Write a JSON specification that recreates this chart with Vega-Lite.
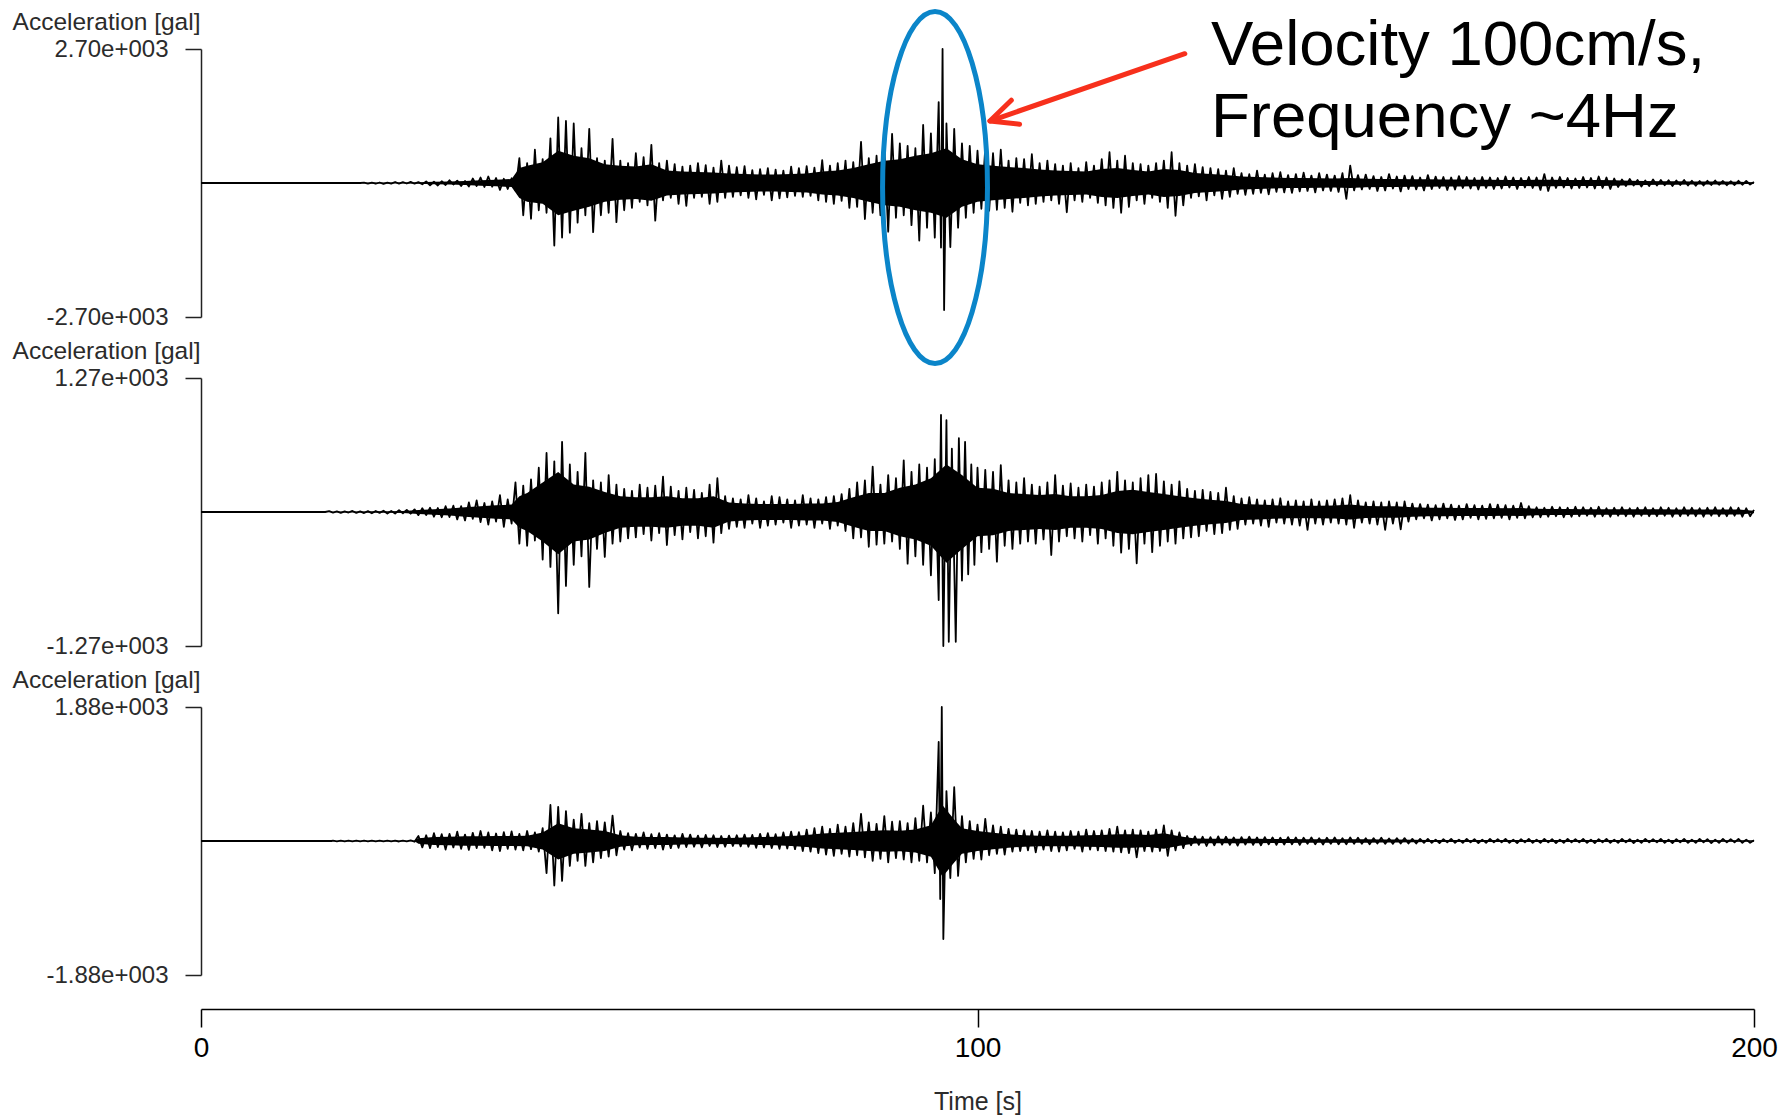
{
"$schema": "https://vega.github.io/schema/vega-lite/v6.json",
"background": "white",
"padding": {"left": 12, "top": 1, "right": 14, "bottom": 4},
"config": {
  "view": {"stroke": null},
  "font": "Liberation Sans",
  "axis": {"grid": false, "domainColor": "#222", "tickColor": "#222", "domainWidth": 1.5, "tickWidth": 1.5, "labelFont": "Liberation Sans", "titleFont": "Liberation Sans", "labelColor": "#2b2b2b", "titleColor": "#2b2b2b", "titleFontWeight": "normal", "labelOverlap": false}
},
"datasets": {
"ns": [{"t":0,"a":0},{"t":20.5,"a":0},{"t":21,"a":8},{"t":21.5,"a":-12},{"t":22,"a":6},{"t":22.5,"a":-15},{"t":23,"a":10},{"t":23.5,"a":-18},{"t":24,"a":9},{"t":24.5,"a":-14},{"t":25,"a":20},{"t":25.5,"a":-12},{"t":26,"a":16},{"t":26.5,"a":-10},{"t":27,"a":22},{"t":27.5,"a":-14},{"t":28,"a":18},{"t":28.5,"a":-25},{"t":29,"a":30},{"t":29.5,"a":-45},{"t":30,"a":25},{"t":30.5,"a":-50},{"t":31,"a":35},{"t":31.5,"a":-40},{"t":32,"a":55},{"t":32.5,"a":-30},{"t":33,"a":48},{"t":33.5,"a":-60},{"t":34,"a":40},{"t":34.5,"a":-70},{"t":35,"a":90},{"t":35.5,"a":-60},{"t":36,"a":110},{"t":36.5,"a":-80},{"t":37,"a":130},{"t":37.5,"a":-75},{"t":38,"a":100},{"t":38.5,"a":-140},{"t":39,"a":85},{"t":39.5,"a":-120},{"t":40,"a":95},{"t":40.5,"a":-150},
{"t":41,"a":500},{"t":41.5,"a":-650},{"t":42,"a":400},{"t":42.5,"a":-720},{"t":43,"a":670},{"t":43.5,"a":-550},{"t":44,"a":480},{"t":44.5,"a":-600},{"t":45,"a":900},{"t":45.5,"a":-1260},{"t":46,"a":1320},{"t":46.5,"a":-1100},{"t":47,"a":1250},{"t":47.5,"a":-1000},{"t":48,"a":1200},{"t":48.5,"a":-800},{"t":49,"a":700},{"t":49.5,"a":-650},{"t":50,"a":1090},{"t":50.5,"a":-990},{"t":51,"a":500},{"t":51.5,"a":-650},{"t":52,"a":450},{"t":52.5,"a":-600},{"t":53,"a":890},{"t":53.5,"a":-790},{"t":54,"a":450},{"t":54.5,"a":-550},{"t":55,"a":400},{"t":55.5,"a":-500},{"t":56,"a":600},{"t":56.5,"a":-380},{"t":57,"a":520},{"t":57.5,"a":-450},{"t":58,"a":770},{"t":58.5,"a":-760},{"t":59,"a":400},{"t":59.5,"a":-350},{"t":60,"a":450},{"t":60.5,"a":-300},{"t":61,"a":380},{"t":61.5,"a":-420},{"t":62,"a":330},{"t":62.5,"a":-460},{"t":63,"a":350},{"t":63.5,"a":-300},{"t":64,"a":400},{"t":64.5,"a":-280},{"t":65,"a":360},{"t":65.5,"a":-420},{"t":66,"a":310},{"t":66.5,"a":-380},{"t":67,"a":450},{"t":67.5,"a":-300},{"t":68,"a":350},{"t":68.5,"a":-280},{"t":69,"a":320},{"t":69.5,"a":-250},{"t":70,"a":340},{"t":70.5,"a":-300},{"t":71,"a":260},{"t":71.5,"a":-330},{"t":72,"a":280},{"t":72.5,"a":-240},{"t":73,"a":300},{"t":73.5,"a":-350},{"t":74,"a":270},{"t":74.5,"a":-310},{"t":75,"a":250},{"t":75.5,"a":-290},{"t":76,"a":330},{"t":76.5,"a":-260},{"t":77,"a":300},{"t":77.5,"a":-280},{"t":78,"a":340},{"t":78.5,"a":-260},{"t":79,"a":310},{"t":79.5,"a":-350},{"t":80,"a":460},{"t":80.5,"a":-380},{"t":81,"a":350},{"t":81.5,"a":-420},{"t":82,"a":400},{"t":82.5,"a":-360},{"t":83,"a":450},{"t":83.5,"a":-500},{"t":84,"a":420},{"t":84.5,"a":-480},{"t":85,"a":830},{"t":85.5,"a":-725},{"t":86,"a":500},{"t":86.5,"a":-600},{"t":87,"a":550},{"t":87.5,"a":-650},{"t":88,"a":700},{"t":88.5,"a":-980},{"t":89,"a":990},{"t":89.5,"a":-700},{"t":90,"a":800},{"t":90.5,"a":-650},{"t":91,"a":750},{"t":91.5,"a":-850},{"t":92,"a":700},{"t":92.5,"a":-1160},{"t":93,"a":1170},{"t":93.5,"a":-900},{"t":94,"a":1000},{"t":94.5,"a":-1100},{"t":95,"a":1630},{"t":95.3,"a":-1300},{"t":95.5,"a":2700},{"t":95.7,"a":-2560},{"t":96,"a":1200},{"t":96.5,"a":-1290},{"t":97,"a":1090},{"t":97.5,"a":-900},{"t":98,"a":800},{"t":98.5,"a":-700},{"t":99,"a":750},{"t":99.5,"a":-600},{"t":100,"a":650},{"t":100.5,"a":-520},{"t":101,"a":700},{"t":101.5,"a":-560},{"t":102,"a":600},{"t":102.5,"a":-540},{"t":103,"a":670},{"t":103.5,"a":-500},{"t":104,"a":450},{"t":104.5,"a":-580},{"t":105,"a":500},{"t":105.5,"a":-400},{"t":106,"a":480},{"t":106.5,"a":-450},{"t":107,"a":580},{"t":107.5,"a":-420},{"t":108,"a":400},{"t":108.5,"a":-380},{"t":109,"a":450},{"t":109.5,"a":-350},{"t":110,"a":380},{"t":110.5,"a":-420},{"t":111,"a":350},{"t":111.5,"a":-590},{"t":112,"a":400},{"t":112.5,"a":-350},{"t":113,"a":300},{"t":113.5,"a":-380},{"t":114,"a":420},{"t":114.5,"a":-300},{"t":115,"a":350},{"t":115.5,"a":-400},{"t":116,"a":480},{"t":116.5,"a":-450},{"t":117,"a":620},{"t":117.5,"a":-500},{"t":118,"a":450},{"t":118.5,"a":-600},{"t":119,"a":550},{"t":119.5,"a":-480},{"t":120,"a":400},{"t":120.5,"a":-350},{"t":121,"a":380},{"t":121.5,"a":-420},{"t":122,"a":350},{"t":122.5,"a":-300},{"t":123,"a":400},{"t":123.5,"a":-380},{"t":124,"a":450},{"t":124.5,"a":-500},{"t":125,"a":620},{"t":125.5,"a":-660},{"t":126,"a":400},{"t":126.5,"a":-450},{"t":127,"a":350},{"t":127.5,"a":-300},{"t":128,"a":380},{"t":128.5,"a":-270},{"t":129,"a":320},{"t":129.5,"a":-350},{"t":130,"a":300},{"t":130.5,"a":-250},{"t":131,"a":280},{"t":131.5,"a":-320},{"t":132,"a":250},{"t":132.5,"a":-280},{"t":133,"a":300},{"t":133.5,"a":-220},{"t":134,"a":200},{"t":134.5,"a":-240},{"t":135,"a":180},{"t":135.5,"a":-220},{"t":136,"a":250},{"t":136.5,"a":-200},{"t":137,"a":170},{"t":137.5,"a":-230},{"t":138,"a":200},{"t":138.5,"a":-180},{"t":139,"a":220},{"t":139.5,"a":-190},{"t":140,"a":160},{"t":140.5,"a":-200},{"t":141,"a":180},{"t":141.5,"a":-170},{"t":142,"a":210},{"t":142.5,"a":-160},{"t":143,"a":150},{"t":143.5,"a":-190},{"t":144,"a":200},{"t":144.5,"a":-150},{"t":145,"a":170},{"t":145.5,"a":-160},{"t":146,"a":150},{"t":146.5,"a":-180},{"t":147,"a":200},{"t":147.5,"a":-320},{"t":148,"a":350},{"t":148.5,"a":-150},{"t":149,"a":160},{"t":149.5,"a":-130},{"t":150,"a":170},{"t":150.5,"a":-120},{"t":151,"a":140},{"t":151.5,"a":-160},{"t":152,"a":120},{"t":152.5,"a":-150},{"t":153,"a":180},{"t":153.5,"a":-110},{"t":154,"a":130},{"t":154.5,"a":-170},{"t":155,"a":150},{"t":155.5,"a":-120},{"t":156,"a":140},{"t":156.5,"a":-130},{"t":157,"a":110},{"t":157.5,"a":-150},{"t":158,"a":160},{"t":158.5,"a":-120},{"t":159,"a":130},{"t":159.5,"a":-100},{"t":160,"a":120},{"t":160.5,"a":-140},{"t":161,"a":110},{"t":161.5,"a":-130},{"t":162,"a":140},{"t":162.5,"a":-100},{"t":163,"a":120},{"t":163.5,"a":-110},{"t":164,"a":100},{"t":164.5,"a":-130},{"t":165,"a":120},{"t":165.5,"a":-100},{"t":166,"a":110},{"t":166.5,"a":-120},{"t":167,"a":100},{"t":167.5,"a":-110},{"t":168,"a":130},{"t":168.5,"a":-90},{"t":169,"a":110},{"t":169.5,"a":-120},{"t":170,"a":100},{"t":170.5,"a":-90},{"t":171,"a":120},{"t":171.5,"a":-100},{"t":172,"a":110},{"t":172.5,"a":-140},{"t":173,"a":180},{"t":173.5,"a":-160},{"t":174,"a":110},{"t":174.5,"a":-100},{"t":175,"a":120},{"t":175.5,"a":-90},{"t":176,"a":100},{"t":176.5,"a":-110},{"t":177,"a":90},{"t":177.5,"a":-100},{"t":178,"a":120},{"t":178.5,"a":-90},{"t":179,"a":100},{"t":179.5,"a":-110},{"t":180,"a":130},{"t":180.5,"a":-100},{"t":181,"a":110},{"t":181.5,"a":-120},{"t":182,"a":90},{"t":182.5,"a":-80},{"t":183,"a":70},{"t":183.5,"a":-60},{"t":184,"a":80},{"t":184.5,"a":-50},{"t":185,"a":60},{"t":185.5,"a":-70},{"t":186,"a":50},{"t":186.5,"a":-60},{"t":187,"a":70},{"t":187.5,"a":-50},{"t":188,"a":60},{"t":188.5,"a":-45},{"t":189,"a":55},{"t":189.5,"a":-60},{"t":190,"a":50},{"t":190.5,"a":-40},{"t":191,"a":60},{"t":191.5,"a":-50},{"t":192,"a":45},{"t":192.5,"a":-55},{"t":193,"a":40},{"t":193.5,"a":-50},{"t":194,"a":45},{"t":194.5,"a":-40},{"t":195,"a":50},{"t":195.5,"a":-35},{"t":196,"a":40},{"t":196.5,"a":-45},{"t":197,"a":35},{"t":197.5,"a":-40},{"t":198,"a":45},{"t":198.5,"a":-35},{"t":199,"a":40},{"t":199.5,"a":-30},{"t":200,"a":20}],
"nsCore": [{"t":20,"hi":0,"lo":0},{"t":22,"hi":8,"lo":-8},{"t":24,"hi":10,"lo":-10},{"t":26,"hi":12,"lo":-12},{"t":28,"hi":15,"lo":-15},{"t":30,"hi":25,"lo":-25},{"t":32,"hi":30,"lo":-30},{"t":34,"hi":40,"lo":-40},{"t":36,"hi":55,"lo":-55},{"t":38,"hi":65,"lo":-65},{"t":40,"hi":80,"lo":-80},{"t":41,"hi":300,"lo":-300},{"t":42,"hi":350,"lo":-380},{"t":44,"hi":420,"lo":-420},{"t":46,"hi":650,"lo":-650},{"t":48,"hi":550,"lo":-560},{"t":50,"hi":500,"lo":-480},{"t":52,"hi":380,"lo":-380},{"t":54,"hi":350,"lo":-340},{"t":56,"hi":330,"lo":-320},{"t":58,"hi":380,"lo":-360},{"t":60,"hi":250,"lo":-250},{"t":62,"hi":230,"lo":-230},{"t":64,"hi":220,"lo":-220},{"t":66,"hi":210,"lo":-210},{"t":68,"hi":190,"lo":-190},{"t":70,"hi":180,"lo":-180},{"t":72,"hi":170,"lo":-170},{"t":74,"hi":170,"lo":-170},{"t":76,"hi":180,"lo":-180},{"t":78,"hi":190,"lo":-190},{"t":80,"hi":230,"lo":-230},{"t":82,"hi":250,"lo":-250},{"t":84,"hi":300,"lo":-300},{"t":86,"hi":380,"lo":-380},{"t":88,"hi":450,"lo":-450},{"t":90,"hi":480,"lo":-480},{"t":92,"hi":550,"lo":-550},{"t":94,"hi":600,"lo":-600},{"t":96,"hi":700,"lo":-700},{"t":98,"hi":480,"lo":-480},{"t":100,"hi":380,"lo":-380},{"t":102,"hi":350,"lo":-350},{"t":104,"hi":320,"lo":-320},{"t":106,"hi":300,"lo":-300},{"t":108,"hi":270,"lo":-270},{"t":110,"hi":250,"lo":-250},{"t":112,"hi":240,"lo":-240},{"t":114,"hi":230,"lo":-230},{"t":116,"hi":280,"lo":-280},{"t":118,"hi":300,"lo":-300},{"t":120,"hi":260,"lo":-260},{"t":122,"hi":230,"lo":-230},{"t":124,"hi":280,"lo":-280},{"t":126,"hi":260,"lo":-260},{"t":128,"hi":200,"lo":-200},{"t":130,"hi":180,"lo":-180},{"t":132,"hi":160,"lo":-160},{"t":134,"hi":130,"lo":-130},{"t":136,"hi":120,"lo":-120},{"t":138,"hi":110,"lo":-110},{"t":140,"hi":100,"lo":-100},{"t":142,"hi":100,"lo":-100},{"t":144,"hi":95,"lo":-95},{"t":146,"hi":90,"lo":-90},{"t":148,"hi":100,"lo":-100},{"t":150,"hi":85,"lo":-85},{"t":152,"hi":80,"lo":-80},{"t":154,"hi":80,"lo":-80},{"t":156,"hi":75,"lo":-75},{"t":158,"hi":75,"lo":-75},{"t":160,"hi":70,"lo":-70},{"t":162,"hi":70,"lo":-70},{"t":164,"hi":65,"lo":-65},{"t":166,"hi":65,"lo":-65},{"t":168,"hi":60,"lo":-60},{"t":170,"hi":60,"lo":-60},{"t":172,"hi":65,"lo":-65},{"t":174,"hi":65,"lo":-65},{"t":176,"hi":60,"lo":-60},{"t":178,"hi":60,"lo":-60},{"t":180,"hi":60,"lo":-60},{"t":182,"hi":55,"lo":-55},{"t":184,"hi":45,"lo":-45},{"t":186,"hi":40,"lo":-40},{"t":188,"hi":35,"lo":-35},{"t":190,"hi":35,"lo":-35},{"t":192,"hi":30,"lo":-30},{"t":194,"hi":30,"lo":-30},{"t":196,"hi":28,"lo":-28},{"t":198,"hi":25,"lo":-25},{"t":200,"hi":15,"lo":-15}],
"ew": [{"t":0,"a":0},{"t":16,"a":0},{"t":16.5,"a":8},{"t":17,"a":-6},{"t":17.5,"a":5},{"t":18,"a":-8},{"t":18.5,"a":6},{"t":19,"a":-5},{"t":19.5,"a":10},{"t":20,"a":-8},{"t":20.5,"a":6},{"t":21,"a":-10},{"t":21.5,"a":8},{"t":22,"a":-12},{"t":22.5,"a":10},{"t":23,"a":-8},{"t":23.5,"a":12},{"t":24,"a":-15},{"t":24.5,"a":10},{"t":25,"a":-14},{"t":25.5,"a":18},{"t":26,"a":-12},{"t":26.5,"a":20},{"t":27,"a":-16},{"t":27.5,"a":25},{"t":28,"a":-30},{"t":28.5,"a":35},{"t":29,"a":-28},{"t":29.5,"a":40},{"t":30,"a":-45},{"t":30.5,"a":38},{"t":31,"a":-50},{"t":31.5,"a":55},{"t":32,"a":-48},{"t":32.5,"a":60},{"t":33,"a":-70},{"t":33.5,"a":55},{"t":34,"a":-80},{"t":34.5,"a":90},{"t":35,"a":-65},{"t":35.5,"a":110},{"t":36,"a":-95},{"t":36.5,"a":85},{"t":37,"a":-120},{"t":37.5,"a":100},{"t":38,"a":-90},{"t":38.5,"a":160},{"t":39,"a":-140},{"t":39.5,"a":120},{"t":40,"a":-110},{"t":40.5,"a":280},{"t":41,"a":-300},{"t":41.5,"a":250},{"t":42,"a":-320},{"t":42.5,"a":310},{"t":43,"a":-270},{"t":43.5,"a":420},{"t":44,"a":-450},{"t":44.5,"a":560},{"t":45,"a":-520},{"t":45.5,"a":480},{"t":46,"a":-960},{"t":46.5,"a":665},{"t":47,"a":-700},{"t":47.5,"a":450},{"t":48,"a":-500},{"t":48.5,"a":380},{"t":49,"a":-420},{"t":49.5,"a":560},{"t":50,"a":-710},{"t":50.5,"a":300},{"t":51,"a":-350},{"t":51.5,"a":280},{"t":52,"a":-425},{"t":52.5,"a":350},{"t":53,"a":-300},{"t":53.5,"a":260},{"t":54,"a":-280},{"t":54.5,"a":220},{"t":55,"a":-250},{"t":55.5,"a":200},{"t":56,"a":-240},{"t":56.5,"a":260},{"t":57,"a":-210},{"t":57.5,"a":230},{"t":58,"a":-270},{"t":58.5,"a":250},{"t":59,"a":-200},{"t":59.5,"a":335},{"t":60,"a":-313},{"t":60.5,"a":240},{"t":61,"a":-220},{"t":61.5,"a":200},{"t":62,"a":-260},{"t":62.5,"a":230},{"t":63,"a":-190},{"t":63.5,"a":210},{"t":64,"a":-250},{"t":64.5,"a":180},{"t":65,"a":-230},{"t":65.5,"a":260},{"t":66,"a":-290},{"t":66.5,"a":320},{"t":67,"a":-200},{"t":67.5,"a":150},{"t":68,"a":-160},{"t":68.5,"a":130},{"t":69,"a":-140},{"t":69.5,"a":120},{"t":70,"a":-150},{"t":70.5,"a":160},{"t":71,"a":-110},{"t":71.5,"a":130},{"t":72,"a":-150},{"t":72.5,"a":100},{"t":73,"a":-130},{"t":73.5,"a":150},{"t":74,"a":-120},{"t":74.5,"a":140},{"t":75,"a":-100},{"t":75.5,"a":120},{"t":76,"a":-150},{"t":76.5,"a":110},{"t":77,"a":-130},{"t":77.5,"a":160},{"t":78,"a":-120},{"t":78.5,"a":130},{"t":79,"a":-150},{"t":79.5,"a":120},{"t":80,"a":-110},{"t":80.5,"a":140},{"t":81,"a":-160},{"t":81.5,"a":150},{"t":82,"a":-130},{"t":82.5,"a":170},{"t":83,"a":-180},{"t":83.5,"a":220},{"t":84,"a":-250},{"t":84.5,"a":280},{"t":85,"a":-240},{"t":85.5,"a":300},{"t":86,"a":-330},{"t":86.5,"a":430},{"t":87,"a":-310},{"t":87.5,"a":260},{"t":88,"a":-300},{"t":88.5,"a":350},{"t":89,"a":-280},{"t":89.5,"a":320},{"t":90,"a":-350},{"t":90.5,"a":490},{"t":91,"a":-490},{"t":91.5,"a":380},{"t":92,"a":-420},{"t":92.5,"a":450},{"t":93,"a":-500},{"t":93.5,"a":420},{"t":94,"a":-600},{"t":94.5,"a":500},{"t":95,"a":-834},{"t":95.3,"a":920},{"t":95.6,"a":-1270},{"t":96,"a":870},{"t":96.3,"a":-1230},{"t":96.7,"a":600},{"t":97.2,"a":-1230},{"t":97.6,"a":700},{"t":98,"a":-650},{"t":98.4,"a":665},{"t":98.8,"a":-590},{"t":99.2,"a":450},{"t":99.6,"a":-500},{"t":100,"a":420},{"t":100.5,"a":-380},{"t":101,"a":400},{"t":101.5,"a":-350},{"t":102,"a":380},{"t":102.5,"a":-470},{"t":103,"a":445},{"t":103.5,"a":-320},{"t":104,"a":300},{"t":104.5,"a":-350},{"t":105,"a":280},{"t":105.5,"a":-300},{"t":106,"a":320},{"t":106.5,"a":-280},{"t":107,"a":260},{"t":107.5,"a":-300},{"t":108,"a":240},{"t":108.5,"a":-260},{"t":109,"a":280},{"t":109.5,"a":-408},{"t":110,"a":350},{"t":110.5,"a":-280},{"t":111,"a":250},{"t":111.5,"a":-230},{"t":112,"a":270},{"t":112.5,"a":-250},{"t":113,"a":230},{"t":113.5,"a":-280},{"t":114,"a":260},{"t":114.5,"a":-220},{"t":115,"a":240},{"t":115.5,"a":-300},{"t":116,"a":280},{"t":116.5,"a":-250},{"t":117,"a":300},{"t":117.5,"a":-320},{"t":118,"a":380},{"t":118.5,"a":-385},{"t":119,"a":300},{"t":119.5,"a":-350},{"t":120,"a":280},{"t":120.5,"a":-486},{"t":121,"a":320},{"t":121.5,"a":-300},{"t":122,"a":350},{"t":122.5,"a":-380},{"t":123,"a":360},{"t":123.5,"a":-320},{"t":124,"a":290},{"t":124.5,"a":-280},{"t":125,"a":260},{"t":125.5,"a":-300},{"t":126,"a":290},{"t":126.5,"a":-250},{"t":127,"a":220},{"t":127.5,"a":-240},{"t":128,"a":200},{"t":128.5,"a":-230},{"t":129,"a":210},{"t":129.5,"a":-180},{"t":130,"a":190},{"t":130.5,"a":-210},{"t":131,"a":180},{"t":131.5,"a":-200},{"t":132,"a":230},{"t":132.5,"a":-170},{"t":133,"a":150},{"t":133.5,"a":-160},{"t":134,"a":130},{"t":134.5,"a":-120},{"t":135,"a":140},{"t":135.5,"a":-110},{"t":136,"a":120},{"t":136.5,"a":-130},{"t":137,"a":110},{"t":137.5,"a":-140},{"t":138,"a":120},{"t":138.5,"a":-100},{"t":139,"a":130},{"t":139.5,"a":-110},{"t":140,"a":100},{"t":140.5,"a":-120},{"t":141,"a":110},{"t":141.5,"a":-130},{"t":142,"a":100},{"t":142.5,"a":-170},{"t":143,"a":120},{"t":143.5,"a":-110},{"t":144,"a":100},{"t":144.5,"a":-120},{"t":145,"a":110},{"t":145.5,"a":-100},{"t":146,"a":120},{"t":146.5,"a":-110},{"t":147,"a":130},{"t":147.5,"a":-120},{"t":148,"a":160},{"t":148.5,"a":-150},{"t":149,"a":110},{"t":149.5,"a":-100},{"t":150,"a":90},{"t":150.5,"a":-110},{"t":151,"a":100},{"t":151.5,"a":-120},{"t":152,"a":90},{"t":152.5,"a":-170},{"t":153,"a":100},{"t":153.5,"a":-110},{"t":154,"a":90},{"t":154.5,"a":-165},{"t":155,"a":100},{"t":155.5,"a":-90},{"t":156,"a":80},{"t":156.5,"a":-70},{"t":157,"a":75},{"t":157.5,"a":-60},{"t":158,"a":70},{"t":158.5,"a":-80},{"t":159,"a":65},{"t":159.5,"a":-70},{"t":160,"a":80},{"t":160.5,"a":-60},{"t":161,"a":70},{"t":161.5,"a":-75},{"t":162,"a":60},{"t":162.5,"a":-70},{"t":163,"a":75},{"t":163.5,"a":-55},{"t":164,"a":65},{"t":164.5,"a":-70},{"t":165,"a":60},{"t":165.5,"a":-65},{"t":166,"a":75},{"t":166.5,"a":-60},{"t":167,"a":70},{"t":167.5,"a":-55},{"t":168,"a":65},{"t":168.5,"a":-70},{"t":169,"a":60},{"t":169.5,"a":-55},{"t":170,"a":85},{"t":170.5,"a":-60},{"t":171,"a":55},{"t":171.5,"a":-50},{"t":172,"a":45},{"t":172.5,"a":-50},{"t":173,"a":40},{"t":173.5,"a":-45},{"t":174,"a":50},{"t":174.5,"a":-40},{"t":175,"a":45},{"t":175.5,"a":-50},{"t":176,"a":40},{"t":176.5,"a":-45},{"t":177,"a":50},{"t":177.5,"a":-40},{"t":178,"a":45},{"t":178.5,"a":-35},{"t":179,"a":40},{"t":179.5,"a":-45},{"t":180,"a":50},{"t":180.5,"a":-40},{"t":181,"a":35},{"t":181.5,"a":-45},{"t":182,"a":40},{"t":182.5,"a":-35},{"t":183,"a":45},{"t":183.5,"a":-40},{"t":184,"a":35},{"t":184.5,"a":-45},{"t":185,"a":40},{"t":185.5,"a":-35},{"t":186,"a":45},{"t":186.5,"a":-40},{"t":187,"a":35},{"t":187.5,"a":-40},{"t":188,"a":45},{"t":188.5,"a":-35},{"t":189,"a":40},{"t":189.5,"a":-45},{"t":190,"a":35},{"t":190.5,"a":-40},{"t":191,"a":45},{"t":191.5,"a":-35},{"t":192,"a":40},{"t":192.5,"a":-40},{"t":193,"a":35},{"t":193.5,"a":-45},{"t":194,"a":40},{"t":194.5,"a":-35},{"t":195,"a":45},{"t":195.5,"a":-40},{"t":196,"a":35},{"t":196.5,"a":-40},{"t":197,"a":45},{"t":197.5,"a":-35},{"t":198,"a":40},{"t":198.5,"a":-45},{"t":199,"a":35},{"t":199.5,"a":-40},{"t":200,"a":20}],
"ewCore": [{"t":16,"hi":0,"lo":0},{"t":18,"hi":4,"lo":-4},{"t":20,"hi":5,"lo":-5},{"t":22,"hi":7,"lo":-7},{"t":24,"hi":8,"lo":-8},{"t":26,"hi":10,"lo":-10},{"t":28,"hi":18,"lo":-18},{"t":30,"hi":25,"lo":-25},{"t":32,"hi":32,"lo":-32},{"t":34,"hi":45,"lo":-45},{"t":36,"hi":55,"lo":-55},{"t":38,"hi":65,"lo":-65},{"t":40,"hi":70,"lo":-70},{"t":41,"hi":150,"lo":-150},{"t":42,"hi":180,"lo":-180},{"t":44,"hi":280,"lo":-280},{"t":46,"hi":380,"lo":-400},{"t":48,"hi":260,"lo":-280},{"t":50,"hi":240,"lo":-260},{"t":52,"hi":190,"lo":-200},{"t":54,"hi":150,"lo":-150},{"t":56,"hi":140,"lo":-140},{"t":58,"hi":140,"lo":-140},{"t":60,"hi":150,"lo":-150},{"t":62,"hi":130,"lo":-130},{"t":64,"hi":130,"lo":-130},{"t":66,"hi":150,"lo":-150},{"t":68,"hi":90,"lo":-90},{"t":70,"hi":80,"lo":-80},{"t":72,"hi":75,"lo":-75},{"t":74,"hi":75,"lo":-75},{"t":76,"hi":75,"lo":-75},{"t":78,"hi":80,"lo":-80},{"t":80,"hi":80,"lo":-80},{"t":82,"hi":95,"lo":-95},{"t":84,"hi":140,"lo":-140},{"t":86,"hi":180,"lo":-180},{"t":88,"hi":180,"lo":-180},{"t":90,"hi":230,"lo":-230},{"t":92,"hi":260,"lo":-260},{"t":94,"hi":320,"lo":-320},{"t":96,"hi":450,"lo":-480},{"t":98,"hi":350,"lo":-350},{"t":100,"hi":230,"lo":-230},{"t":102,"hi":220,"lo":-220},{"t":104,"hi":180,"lo":-180},{"t":106,"hi":170,"lo":-170},{"t":108,"hi":160,"lo":-160},{"t":110,"hi":170,"lo":-170},{"t":112,"hi":150,"lo":-150},{"t":114,"hi":150,"lo":-150},{"t":116,"hi":160,"lo":-160},{"t":118,"hi":200,"lo":-200},{"t":120,"hi":210,"lo":-210},{"t":122,"hi":190,"lo":-190},{"t":124,"hi":170,"lo":-170},{"t":126,"hi":150,"lo":-150},{"t":128,"hi":130,"lo":-130},{"t":130,"hi":115,"lo":-115},{"t":132,"hi":105,"lo":-105},{"t":134,"hi":75,"lo":-75},{"t":136,"hi":70,"lo":-70},{"t":138,"hi":65,"lo":-65},{"t":140,"hi":60,"lo":-60},{"t":142,"hi":60,"lo":-60},{"t":144,"hi":60,"lo":-60},{"t":146,"hi":62,"lo":-62},{"t":148,"hi":70,"lo":-70},{"t":150,"hi":58,"lo":-58},{"t":152,"hi":55,"lo":-55},{"t":154,"hi":55,"lo":-55},{"t":156,"hi":45,"lo":-45},{"t":158,"hi":40,"lo":-40},{"t":160,"hi":40,"lo":-40},{"t":162,"hi":38,"lo":-38},{"t":164,"hi":38,"lo":-38},{"t":166,"hi":38,"lo":-38},{"t":168,"hi":36,"lo":-36},{"t":170,"hi":38,"lo":-38},{"t":172,"hi":30,"lo":-30},{"t":174,"hi":28,"lo":-28},{"t":176,"hi":28,"lo":-28},{"t":178,"hi":27,"lo":-27},{"t":180,"hi":27,"lo":-27},{"t":182,"hi":26,"lo":-26},{"t":184,"hi":25,"lo":-25},{"t":186,"hi":25,"lo":-25},{"t":188,"hi":25,"lo":-25},{"t":190,"hi":24,"lo":-24},{"t":192,"hi":24,"lo":-24},{"t":194,"hi":24,"lo":-24},{"t":196,"hi":23,"lo":-23},{"t":198,"hi":23,"lo":-23},{"t":200,"hi":12,"lo":-12}],
"ud": [{"t":0,"a":0},{"t":16.8,"a":0},{"t":17,"a":4},{"t":17.5,"a":-5},{"t":18,"a":4},{"t":18.5,"a":-6},{"t":19,"a":5},{"t":19.5,"a":-4},{"t":20,"a":6},{"t":20.5,"a":-5},{"t":21,"a":4},{"t":21.5,"a":-6},{"t":22,"a":5},{"t":22.5,"a":-4},{"t":23,"a":6},{"t":23.5,"a":-5},{"t":24,"a":4},{"t":24.5,"a":-6},{"t":25,"a":5},{"t":25.5,"a":-7},{"t":26,"a":6},{"t":26.5,"a":-5},{"t":27,"a":8},{"t":27.5,"a":-10},{"t":28,"a":70},{"t":28.5,"a":-90},{"t":29,"a":80},{"t":29.5,"a":-100},{"t":30,"a":110},{"t":30.5,"a":-85},{"t":31,"a":95},{"t":31.5,"a":-120},{"t":32,"a":100},{"t":32.5,"a":-90},{"t":33,"a":130},{"t":33.5,"a":-110},{"t":34,"a":90},{"t":34.5,"a":-125},{"t":35,"a":115},{"t":35.5,"a":-100},{"t":36,"a":140},{"t":36.5,"a":-95},{"t":37,"a":120},{"t":37.5,"a":-130},{"t":38,"a":105},{"t":38.5,"a":-140},{"t":39,"a":125},{"t":39.5,"a":-110},{"t":40,"a":135},{"t":40.5,"a":-120},{"t":41,"a":100},{"t":41.5,"a":-130},{"t":42,"a":140},{"t":42.5,"a":-115},{"t":43,"a":120},{"t":43.5,"a":-150},{"t":44,"a":180},{"t":44.5,"a":-450},{"t":45,"a":505},{"t":45.5,"a":-625},{"t":46,"a":480},{"t":46.5,"a":-560},{"t":47,"a":420},{"t":47.5,"a":-350},{"t":48,"a":300},{"t":48.5,"a":-280},{"t":49,"a":380},{"t":49.5,"a":-350},{"t":50,"a":250},{"t":50.5,"a":-300},{"t":51,"a":280},{"t":51.5,"a":-240},{"t":52,"a":260},{"t":52.5,"a":-220},{"t":53,"a":355},{"t":53.5,"a":-200},{"t":54,"a":140},{"t":54.5,"a":-120},{"t":55,"a":110},{"t":55.5,"a":-130},{"t":56,"a":100},{"t":56.5,"a":-90},{"t":57,"a":120},{"t":57.5,"a":-110},{"t":58,"a":95},{"t":58.5,"a":-100},{"t":59,"a":110},{"t":59.5,"a":-120},{"t":60,"a":90},{"t":60.5,"a":-100},{"t":61,"a":80},{"t":61.5,"a":-95},{"t":62,"a":100},{"t":62.5,"a":-85},{"t":63,"a":90},{"t":63.5,"a":-80},{"t":64,"a":75},{"t":64.5,"a":-90},{"t":65,"a":85},{"t":65.5,"a":-70},{"t":66,"a":80},{"t":66.5,"a":-85},{"t":67,"a":70},{"t":67.5,"a":-80},{"t":68,"a":75},{"t":68.5,"a":-70},{"t":69,"a":80},{"t":69.5,"a":-75},{"t":70,"a":90},{"t":70.5,"a":-80},{"t":71,"a":85},{"t":71.5,"a":-95},{"t":72,"a":100},{"t":72.5,"a":-90},{"t":73,"a":110},{"t":73.5,"a":-100},{"t":74,"a":95},{"t":74.5,"a":-110},{"t":75,"a":120},{"t":75.5,"a":-105},{"t":76,"a":130},{"t":76.5,"a":-115},{"t":77,"a":125},{"t":77.5,"a":-140},{"t":78,"a":160},{"t":78.5,"a":-150},{"t":79,"a":180},{"t":79.5,"a":-170},{"t":80,"a":200},{"t":80.5,"a":-190},{"t":81,"a":170},{"t":81.5,"a":-210},{"t":82,"a":230},{"t":82.5,"a":-180},{"t":83,"a":200},{"t":83.5,"a":-220},{"t":84,"a":250},{"t":84.5,"a":-200},{"t":85,"a":380},{"t":85.5,"a":-230},{"t":86,"a":260},{"t":86.5,"a":-280},{"t":87,"a":240},{"t":87.5,"a":-250},{"t":88,"a":350},{"t":88.5,"a":-300},{"t":89,"a":270},{"t":89.5,"a":-240},{"t":90,"a":280},{"t":90.5,"a":-260},{"t":91,"a":250},{"t":91.5,"a":-300},{"t":92,"a":320},{"t":92.5,"a":-280},{"t":93,"a":495},{"t":93.5,"a":-300},{"t":94,"a":400},{"t":94.5,"a":-450},{"t":95,"a":1390},{"t":95.2,"a":-814},{"t":95.4,"a":1880},{"t":95.6,"a":-1375},{"t":96,"a":700},{"t":96.5,"a":-520},{"t":97,"a":755},{"t":97.5,"a":-490},{"t":98,"a":350},{"t":98.5,"a":-300},{"t":99,"a":280},{"t":99.5,"a":-250},{"t":100,"a":230},{"t":100.5,"a":-260},{"t":101,"a":310},{"t":101.5,"a":-200},{"t":102,"a":220},{"t":102.5,"a":-180},{"t":103,"a":200},{"t":103.5,"a":-190},{"t":104,"a":170},{"t":104.5,"a":-150},{"t":105,"a":160},{"t":105.5,"a":-140},{"t":106,"a":150},{"t":106.5,"a":-130},{"t":107,"a":140},{"t":107.5,"a":-160},{"t":108,"a":130},{"t":108.5,"a":-120},{"t":109,"a":150},{"t":109.5,"a":-140},{"t":110,"a":130},{"t":110.5,"a":-150},{"t":111,"a":120},{"t":111.5,"a":-130},{"t":112,"a":140},{"t":112.5,"a":-110},{"t":113,"a":130},{"t":113.5,"a":-150},{"t":114,"a":160},{"t":114.5,"a":-120},{"t":115,"a":140},{"t":115.5,"a":-130},{"t":116,"a":150},{"t":116.5,"a":-140},{"t":117,"a":170},{"t":117.5,"a":-150},{"t":118,"a":200},{"t":118.5,"a":-160},{"t":119,"a":150},{"t":119.5,"a":-170},{"t":120,"a":160},{"t":120.5,"a":-230},{"t":121,"a":150},{"t":121.5,"a":-140},{"t":122,"a":130},{"t":122.5,"a":-150},{"t":123,"a":160},{"t":123.5,"a":-140},{"t":124,"a":220},{"t":124.5,"a":-210},{"t":125,"a":150},{"t":125.5,"a":-130},{"t":126,"a":120},{"t":126.5,"a":-100},{"t":127,"a":70},{"t":127.5,"a":-60},{"t":128,"a":65},{"t":128.5,"a":-55},{"t":129,"a":60},{"t":129.5,"a":-70},{"t":130,"a":55},{"t":130.5,"a":-60},{"t":131,"a":65},{"t":131.5,"a":-50},{"t":132,"a":60},{"t":132.5,"a":-55},{"t":133,"a":50},{"t":133.5,"a":-65},{"t":134,"a":55},{"t":134.5,"a":-50},{"t":135,"a":60},{"t":135.5,"a":-55},{"t":136,"a":50},{"t":136.5,"a":-60},{"t":137,"a":55},{"t":137.5,"a":-45},{"t":138,"a":50},{"t":138.5,"a":-55},{"t":139,"a":45},{"t":139.5,"a":-50},{"t":140,"a":55},{"t":140.5,"a":-45},{"t":141,"a":50},{"t":141.5,"a":-55},{"t":142,"a":45},{"t":142.5,"a":-40},{"t":143,"a":50},{"t":143.5,"a":-45},{"t":144,"a":40},{"t":144.5,"a":-50},{"t":145,"a":45},{"t":145.5,"a":-40},{"t":146,"a":50},{"t":146.5,"a":-45},{"t":147,"a":40},{"t":147.5,"a":-45},{"t":148,"a":50},{"t":148.5,"a":-40},{"t":149,"a":45},{"t":149.5,"a":-40},{"t":150,"a":40},{"t":150.5,"a":-45},{"t":151,"a":40},{"t":151.5,"a":-35},{"t":152,"a":45},{"t":152.5,"a":-40},{"t":153,"a":35},{"t":153.5,"a":-40},{"t":154,"a":40},{"t":154.5,"a":-35},{"t":155,"a":40},{"t":155.5,"a":-35},{"t":156,"a":30},{"t":156.5,"a":-35},{"t":157,"a":30},{"t":157.5,"a":-25},{"t":158,"a":30},{"t":158.5,"a":-25},{"t":159,"a":20},{"t":159.5,"a":-30},{"t":160,"a":25},{"t":160.5,"a":-20},{"t":161,"a":30},{"t":161.5,"a":-25},{"t":162,"a":20},{"t":162.5,"a":-25},{"t":163,"a":30},{"t":163.5,"a":-20},{"t":164,"a":25},{"t":164.5,"a":-30},{"t":165,"a":20},{"t":165.5,"a":-25},{"t":166,"a":30},{"t":166.5,"a":-20},{"t":167,"a":25},{"t":167.5,"a":-20},{"t":168,"a":30},{"t":168.5,"a":-25},{"t":169,"a":20},{"t":169.5,"a":-30},{"t":170,"a":25},{"t":170.5,"a":-20},{"t":171,"a":30},{"t":171.5,"a":-25},{"t":172,"a":20},{"t":172.5,"a":-25},{"t":173,"a":30},{"t":173.5,"a":-20},{"t":174,"a":25},{"t":174.5,"a":-30},{"t":175,"a":20},{"t":175.5,"a":-25},{"t":176,"a":30},{"t":176.5,"a":-20},{"t":177,"a":25},{"t":177.5,"a":-20},{"t":178,"a":30},{"t":178.5,"a":-25},{"t":179,"a":20},{"t":179.5,"a":-30},{"t":180,"a":25},{"t":180.5,"a":-20},{"t":181,"a":30},{"t":181.5,"a":-25},{"t":182,"a":20},{"t":182.5,"a":-25},{"t":183,"a":30},{"t":183.5,"a":-20},{"t":184,"a":25},{"t":184.5,"a":-30},{"t":185,"a":20},{"t":185.5,"a":-25},{"t":186,"a":30},{"t":186.5,"a":-20},{"t":187,"a":25},{"t":187.5,"a":-20},{"t":188,"a":30},{"t":188.5,"a":-25},{"t":189,"a":20},{"t":189.5,"a":-30},{"t":190,"a":25},{"t":190.5,"a":-20},{"t":191,"a":30},{"t":191.5,"a":-25},{"t":192,"a":20},{"t":192.5,"a":-25},{"t":193,"a":30},{"t":193.5,"a":-20},{"t":194,"a":25},{"t":194.5,"a":-30},{"t":195,"a":20},{"t":195.5,"a":-25},{"t":196,"a":30},{"t":196.5,"a":-20},{"t":197,"a":25},{"t":197.5,"a":-20},{"t":198,"a":30},{"t":198.5,"a":-25},{"t":199,"a":20},{"t":199.5,"a":-25},{"t":200,"a":10}],
"udCore": [{"t":16.8,"hi":0,"lo":0},{"t":18,"hi":3,"lo":-3},{"t":20,"hi":3,"lo":-3},{"t":22,"hi":3,"lo":-3},{"t":24,"hi":3,"lo":-3},{"t":26,"hi":4,"lo":-4},{"t":27.5,"hi":5,"lo":-5},{"t":28,"hi":40,"lo":-40},{"t":30,"hi":55,"lo":-55},{"t":32,"hi":60,"lo":-60},{"t":34,"hi":65,"lo":-65},{"t":36,"hi":65,"lo":-65},{"t":38,"hi":70,"lo":-70},{"t":40,"hi":70,"lo":-70},{"t":42,"hi":75,"lo":-75},{"t":44,"hi":120,"lo":-120},{"t":46,"hi":250,"lo":-260},{"t":48,"hi":180,"lo":-180},{"t":50,"hi":160,"lo":-160},{"t":52,"hi":140,"lo":-140},{"t":54,"hi":80,"lo":-80},{"t":56,"hi":60,"lo":-60},{"t":58,"hi":55,"lo":-55},{"t":60,"hi":55,"lo":-55},{"t":62,"hi":50,"lo":-50},{"t":64,"hi":45,"lo":-45},{"t":66,"hi":45,"lo":-45},{"t":68,"hi":42,"lo":-42},{"t":70,"hi":48,"lo":-48},{"t":72,"hi":55,"lo":-55},{"t":74,"hi":60,"lo":-60},{"t":76,"hi":70,"lo":-70},{"t":78,"hi":85,"lo":-85},{"t":80,"hi":105,"lo":-105},{"t":82,"hi":115,"lo":-115},{"t":84,"hi":125,"lo":-125},{"t":86,"hi":140,"lo":-140},{"t":88,"hi":150,"lo":-150},{"t":90,"hi":145,"lo":-145},{"t":92,"hi":160,"lo":-160},{"t":94,"hi":220,"lo":-220},{"t":95.5,"hi":500,"lo":-500},{"t":97,"hi":300,"lo":-300},{"t":98,"hi":180,"lo":-180},{"t":100,"hi":140,"lo":-140},{"t":102,"hi":115,"lo":-115},{"t":104,"hi":95,"lo":-95},{"t":106,"hi":80,"lo":-80},{"t":108,"hi":75,"lo":-75},{"t":110,"hi":75,"lo":-75},{"t":112,"hi":72,"lo":-72},{"t":114,"hi":80,"lo":-80},{"t":116,"hi":85,"lo":-85},{"t":118,"hi":95,"lo":-95},{"t":120,"hi":95,"lo":-95},{"t":122,"hi":85,"lo":-85},{"t":124,"hi":110,"lo":-110},{"t":126,"hi":65,"lo":-65},{"t":128,"hi":35,"lo":-35},{"t":130,"hi":33,"lo":-33},{"t":132,"hi":32,"lo":-32},{"t":134,"hi":30,"lo":-30},{"t":136,"hi":30,"lo":-30},{"t":138,"hi":28,"lo":-28},{"t":140,"hi":28,"lo":-28},{"t":142,"hi":26,"lo":-26},{"t":144,"hi":25,"lo":-25},{"t":146,"hi":25,"lo":-25},{"t":148,"hi":25,"lo":-25},{"t":150,"hi":24,"lo":-24},{"t":152,"hi":22,"lo":-22},{"t":154,"hi":21,"lo":-21},{"t":156,"hi":19,"lo":-19},{"t":158,"hi":15,"lo":-15},{"t":160,"hi":14,"lo":-14},{"t":170,"hi":14,"lo":-14},{"t":180,"hi":14,"lo":-14},{"t":190,"hi":13,"lo":-13},{"t":200,"hi":12,"lo":-12}],
"note": [{"t":130.07,"a":2378,"label":"Velocity 100cm/s,"},{"t":130.07,"a":927,"label":"Frequency ~4Hz"}],
"ell": [{"t":94.53,"a":-91}],
"arrow": [{"t":126.7,"a":2605,"t2":101.6,"a2":1249}]
},
"spacing": 61,
"bounds": "flush",
"vconcat": [
{
 "width": 1553, "height": 268,
 "layer": [
  {"data": {"name": "nsCore"},
   "mark": {"type": "area", "color": "#000", "opacity": 1},
   "encoding": {
     "x": {"field": "t", "type": "quantitative", "scale": {"domain": [0, 200], "nice": false, "zero": false}, "axis": null},
     "y": {"field": "hi", "type": "quantitative", "scale": {"domain": [-2700, 2700], "nice": false},
           "axis": {"values": [-2700, 2700], "labelExpr": "(datum.value < 0 ? '-' : '') + replace(format(abs(datum.value), '.2e'), 'e+', 'e+00')", "title": "Acceleration [gal]", "titleAngle": 0, "titleAlign": "right", "titleBaseline": "middle", "titleX": -1, "titleY": -27, "tickSize": 16, "labelPadding": 17, "labelFontSize": 24, "titleFontSize": 24.5}},
     "y2": {"field": "lo"}
   }},
  {"data": {"name": "ns"},
   "mark": {"type": "line", "color": "#000", "strokeWidth": 1.8, "strokeJoin": "round"},
   "encoding": {
     "x": {"field": "t", "type": "quantitative", "scale": {"domain": [0, 200], "nice": false, "zero": false}},
     "y": {"field": "a", "type": "quantitative", "scale": {"domain": [-2700, 2700], "nice": false}}
   }},
  {"mark": {"type": "text", "text": "NS", "align": "left", "baseline": "middle", "dx": 30, "dy": -13, "fontSize": 24, "color": "#2b2b2b"},
   "encoding": {"x": {"datum": 0, "type": "quantitative"}, "y": {"datum": 2700, "type": "quantitative"}}},
  {"data": {"name": "ell"},
   "mark": {"type": "point", "shape": "M0,-1 A0.298,1 0 1,0 0,1 A0.298,1 0 1,0 0,-1 Z", "size": 123904, "filled": false, "color": "#0b85c9", "strokeWidth": 5, "opacity": 1},
   "encoding": {"x": {"field": "t", "type": "quantitative"}, "y": {"field": "a", "type": "quantitative"}}},
  {"data": {"name": "arrow"},
   "mark": {"type": "rule", "color": "#f7301c", "strokeWidth": 5, "strokeCap": "round"},
   "encoding": {"x": {"field": "t", "type": "quantitative"}, "y": {"field": "a", "type": "quantitative"}, "x2": {"field": "t2"}, "y2": {"field": "a2"}}},
  {"data": {"name": "arrow"},
   "mark": {"type": "point", "shape": "M-1,-0.47 L0,0 L-1,0.47", "size": 2916, "filled": false, "color": "#f7301c", "strokeWidth": 5, "strokeCap": "round", "strokeJoin": "round", "angle": 161, "opacity": 1},
   "encoding": {"x": {"field": "t2", "type": "quantitative"}, "y": {"field": "a2", "type": "quantitative"}}},
  {"data": {"name": "note"},
   "mark": {"type": "text", "align": "left", "baseline": "alphabetic", "fontSize": 63.5, "color": "#000", "font": "Liberation Sans"},
   "encoding": {"x": {"field": "t", "type": "quantitative"}, "y": {"field": "a", "type": "quantitative"}, "text": {"field": "label"}}}
 ]
},
{
 "width": 1553, "height": 268,
 "layer": [
  {"data": {"name": "ewCore"},
   "mark": {"type": "area", "color": "#000", "opacity": 1},
   "encoding": {
     "x": {"field": "t", "type": "quantitative", "scale": {"domain": [0, 200], "nice": false, "zero": false}, "axis": null},
     "y": {"field": "hi", "type": "quantitative", "scale": {"domain": [-1270, 1270], "nice": false},
           "axis": {"values": [-1270, 1270], "labelExpr": "(datum.value < 0 ? '-' : '') + replace(format(abs(datum.value), '.2e'), 'e+', 'e+00')", "title": "Acceleration [gal]", "titleAngle": 0, "titleAlign": "right", "titleBaseline": "middle", "titleX": -1, "titleY": -27, "tickSize": 16, "labelPadding": 17, "labelFontSize": 24, "titleFontSize": 24.5}},
     "y2": {"field": "lo"}
   }},
  {"data": {"name": "ew"},
   "mark": {"type": "line", "color": "#000", "strokeWidth": 1.8, "strokeJoin": "round"},
   "encoding": {
     "x": {"field": "t", "type": "quantitative", "scale": {"domain": [0, 200], "nice": false, "zero": false}},
     "y": {"field": "a", "type": "quantitative", "scale": {"domain": [-1270, 1270], "nice": false}}
   }},
  {"mark": {"type": "text", "text": "EW", "align": "left", "baseline": "middle", "dx": 30, "dy": -13, "fontSize": 24, "color": "#2b2b2b"},
   "encoding": {"x": {"datum": 0, "type": "quantitative"}, "y": {"datum": 1270, "type": "quantitative"}}}
 ]
},
{
 "width": 1553, "height": 268,
 "layer": [
  {"data": {"name": "udCore"},
   "mark": {"type": "area", "color": "#000", "opacity": 1},
   "encoding": {
     "x": {"field": "t", "type": "quantitative", "scale": {"domain": [0, 200], "nice": false, "zero": false},
           "axis": {"values": [0, 100, 200], "title": "Time [s]", "offset": 34, "tickSize": 18, "labelFontSize": 28, "labelColor": "#000", "labelPadding": 7, "labelFlush": false, "titleFontSize": 25, "titlePadding": 27, "domainColor": "#000", "tickColor": "#000", "format": "d"}},
     "y": {"field": "hi", "type": "quantitative", "scale": {"domain": [-1880, 1880], "nice": false},
           "axis": {"values": [-1880, 1880], "labelExpr": "(datum.value < 0 ? '-' : '') + replace(format(abs(datum.value), '.2e'), 'e+', 'e+00')", "title": "Acceleration [gal]", "titleAngle": 0, "titleAlign": "right", "titleBaseline": "middle", "titleX": -1, "titleY": -27, "tickSize": 16, "labelPadding": 17, "labelFontSize": 24, "titleFontSize": 24.5}},
     "y2": {"field": "lo"}
   }},
  {"data": {"name": "ud"},
   "mark": {"type": "line", "color": "#000", "strokeWidth": 1.8, "strokeJoin": "round"},
   "encoding": {
     "x": {"field": "t", "type": "quantitative", "scale": {"domain": [0, 200], "nice": false, "zero": false}},
     "y": {"field": "a", "type": "quantitative", "scale": {"domain": [-1880, 1880], "nice": false}}
   }},
  {"mark": {"type": "text", "text": "UD", "align": "left", "baseline": "middle", "dx": 30, "dy": -13, "fontSize": 24, "color": "#2b2b2b"},
   "encoding": {"x": {"datum": 0, "type": "quantitative"}, "y": {"datum": 1880, "type": "quantitative"}}}
 ]
}
]
}
